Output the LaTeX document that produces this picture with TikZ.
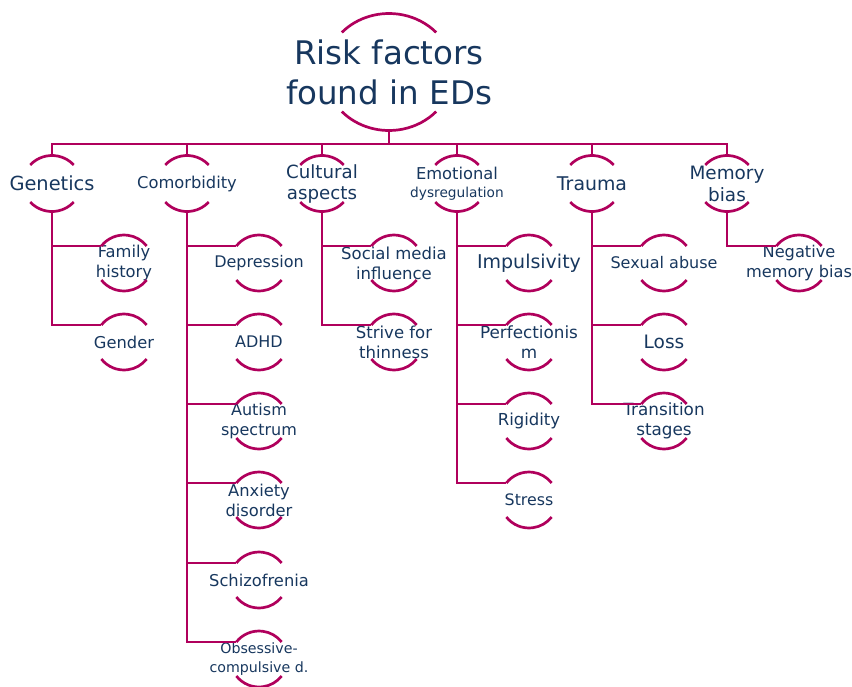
\documentclass[tikz,border=0pt]{standalone}
\usepackage{fontspec}
\setmainfont{DejaVu Sans}
\usetikzlibrary{calc}
\definecolor{berry}{HTML}{B0005C}
\definecolor{inkblue}{HTML}{17375E}
\tikzset{
  link/.style={draw=berry, line width=2.7pt, line join=miter},
  rim/.style={draw=berry, line width=2.7pt},
  txt/.style={text=inkblue, align=center, inner sep=0pt},
  fs/.style 2 args={font=\fontsize{#1}{#2}\selectfont},
}
% upper and lower rim arcs around a node: name, x radius, y radius (pt), half-gap angle
\newcommand\rimarcs[4]{%
  \draw[rim] ([shift={(180-#4:#2pt and #3pt)}]#1.center)
    arc[start angle=180-#4, end angle=#4, x radius=#2pt, y radius=#3pt];
  \draw[rim] ([shift={(180+#4:#2pt and #3pt)}]#1.center)
    arc[start angle=180+#4, end angle=360-#4, x radius=#2pt, y radius=#3pt];}
\begin{document}
\begin{tikzpicture}[x=1pt,y=-1pt]
\useasboundingbox (0,0) rectangle (852,686);

% root
\node[txt, fs={32.5}{40}] (title) at (389,72) {Risk factors\\found in EDs};
\rimarcs{title}{64}{58.5}{42.5}
\coordinate (bus) at (0,144);

% first level
\node[txt, fs={19.4}{23}] (gen) at (52,183.5) {Genetics};
\node[txt, fs={16.3}{20}] (com) at (187,183.5) {Comorbidity};
\node[txt, fs={18.2}{21}] (cul) at (322,183.5) {Cultural\\aspects};
\node[txt, fs={13.7}{18}] (emo) at (457,183.5) {{\fontsize{16.3}{18}\selectfont Emotional}\\dysregulation};
\node[txt, fs={18.9}{22}] (tra) at (592,183.5) {Trauma};
\node[txt, fs={18.4}{22}] (mem) at (727,183.5) {Memory\\bias};
\foreach \n in {gen,com,cul,emo,tra,mem} {\rimarcs{\n}{29}{28}{41.4}}

% bus from the root to the first level
\draw[link] ($(title)+(0,58.5)$) -- (title |- bus);
\draw[link] ($(gen)+(0,-28)$) -- (gen |- bus) -- (mem |- bus) -- ($(mem)+(0,-28)$);
\foreach \n in {com,cul,emo,tra} {\draw[link] ($(\n)+(0,-28)$) -- (\n |- bus);}

% second level
\node[txt, fs={16.3}{20}] (fam) at (124,263) {Family\\history};
\node[txt, fs={16.3}{20}] (gend) at (124,342) {Gender};

\node[txt, fs={16}{20}] (dep) at (259,263) {Depression};
\node[txt, fs={16}{20}] (adhd) at (259,342) {ADHD};
\node[txt, fs={16}{20}] (aut) at (259,421) {Autism\\spectrum};
\node[txt, fs={16.3}{20}] (anx) at (259,500) {Anxiety\\disorder};
\node[txt, fs={16.3}{20}] (sch) at (259,580) {Schizofrenia};
\node[txt, fs={14.2}{19}] (ocd) at (259,659) {Obsessive-\\compulsive d.};

\node[txt, fs={16.5}{20}] (soc) at (394,263) {Social media\\influence};
\node[txt, fs={16.5}{20}] (thin) at (394,342) {Strive for\\thinness};

\node[txt, fs={19}{22}] (imp) at (529,263) {Impulsivity};
\node[txt, fs={16.8}{20}] (perf) at (529,342) {Perfectionis\\m};
\node[txt, fs={16.5}{20}] (rig) at (529,421) {Rigidity};
\node[txt, fs={15.8}{20}] (str) at (529,500) {Stress};

\node[txt, fs={16}{20}] (sex) at (664,263) {Sexual abuse};
\node[txt, fs={18.5}{22}] (loss) at (664,342) {Loss};
\node[txt, fs={16.8}{20}] (trans) at (664,421) {Transition\\stages};

\node[txt, fs={16.2}{20}] (neg) at (799,263) {Negative\\memory bias};

\foreach \n in {fam,gend,dep,adhd,aut,anx,sch,ocd,soc,thin,imp,perf,rig,str,sex,loss,trans,neg}
  {\rimarcs{\n}{28.5}{28}{37.4}}

% branches from each first-level node to its children
\foreach \p/\c in {gen/fam,gen/gend,
                   com/dep,com/adhd,com/aut,com/anx,com/sch,com/ocd,
                   cul/soc,cul/thin,
                   emo/imp,emo/perf,emo/rig,emo/str,
                   tra/sex,tra/loss,tra/trans,
                   mem/neg}
  {\draw[link] ($(\p)+(0,28)$) |- ($(\c)+(-22.6,-17)$);}
\end{tikzpicture}
\end{document}
